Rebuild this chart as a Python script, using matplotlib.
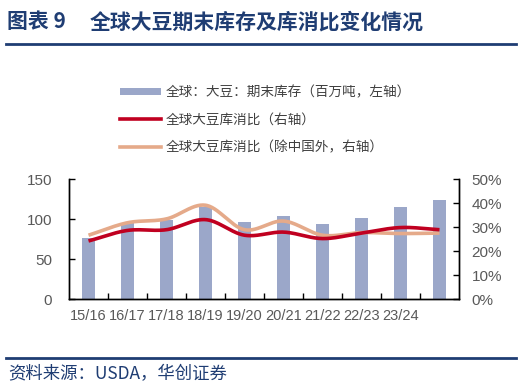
import numpy as np
import matplotlib
matplotlib.use("Agg")
import matplotlib.pyplot as plt
from matplotlib.patches import Patch
from matplotlib.lines import Line2D
from matplotlib.ticker import FuncFormatter, FixedLocator

plt.rcParams['font.family'] = ['Liberation Sans', 'Noto Sans CJK SC', 'DejaVu Sans']

# ---------------- data ----------------
categories = ["15/16", "16/17", "17/18", "18/19", "19/20", "20/21", "21/22", "22/23", "23/24", ""]
stocks = [76.6, 96.0, 99.6, 115.4, 96.7, 104.0, 94.0, 102.0, 115.4, 124.6]          # 百万吨
ratio_world = [24.3, 28.7, 29.0, 33.2, 26.7, 28.0, 25.3, 27.6, 29.9, 29.0]          # %
ratio_ex_china = [26.7, 31.9, 33.5, 39.2, 29.0, 32.6, 26.7, 27.8, 27.4, 27.6]       # %

title_tag = "图表 9"
title = "全球大豆期末库存及库消比变化情况"
legend_labels = ["全球：大豆：期末库存（百万吨，左轴）",
                 "全球大豆库消比（右轴）",
                 "全球大豆库消比（除中国外，右轴）"]
source = "资料来源：USDA，华创证券"

BAR_C = "#9BA7C9"
RED_C = "#C00020"
ORA_C = "#E5AA8A"
NAVY = "#1F3D73"
GRAY = "#595959"


def smooth(x, y, n=30):
    """Catmull-Rom rendering of a line through its points (Excel-like smoothing)."""
    x = np.asarray(x, float)
    y = np.asarray(y, float)
    px = np.concatenate([[2 * x[0] - x[1]], x, [2 * x[-1] - x[-2]]])
    py = np.concatenate([[2 * y[0] - y[1]], y, [2 * y[-1] - y[-2]]])
    xs, ys = [], []
    t = np.linspace(0, 1, n, endpoint=False)
    for i in range(1, len(px) - 2):
        p0, p1, p2, p3 = (np.array([px[j], py[j]]) for j in (i - 1, i, i + 1, i + 2))
        c1 = p1 + (p2 - p0) / 6.0
        c2 = p2 - (p3 - p1) / 6.0
        b = ((1 - t) ** 3)[:, None] * p1 + (3 * (1 - t) ** 2 * t)[:, None] * c1 \
            + (3 * (1 - t) * t ** 2)[:, None] * c2 + (t ** 3)[:, None] * p2
        xs.append(b[:, 0]); ys.append(b[:, 1])
    xs.append([x[-1]]); ys.append([y[-1]])
    return np.concatenate(xs), np.concatenate(ys)


fig = plt.figure(figsize=(5.30, 3.89), dpi=100)
ax = fig.add_axes([69 / 530, 1 - 299.3 / 389, 390 / 530, 120 / 389])
ax2 = ax.twinx()

x = np.arange(len(categories))
ax.bar(x, stocks, width=0.34, color=BAR_C, zorder=2)
ax.set_xlim(-0.5, len(categories) - 0.5)
ax.set_ylim(0, 150)
ax.set_yticks([0, 50, 100, 150])

sx, sy = smooth(x, ratio_ex_china)
ax2.plot(sx, np.array(sy) / 100, color=ORA_C, lw=2.6, solid_capstyle='butt', zorder=3)
sx, sy = smooth(x, ratio_world)
ax2.plot(sx, np.array(sy) / 100, color=RED_C, lw=2.6, solid_capstyle='butt', zorder=4)
ax2.set_ylim(0, 0.5)
ax2.set_yticks(np.arange(0, 0.51, 0.1))
ax2.yaxis.set_major_formatter(FuncFormatter(lambda v, p: f"{v*100:.0f}%"))

# x axis: labels at centres, ticks at boundaries
ax.set_xticks(x)
ax.set_xticklabels(categories)
ax.tick_params(axis='x', which='major', length=0, pad=7, labelsize=10.5, labelcolor=GRAY)
ax.xaxis.set_minor_locator(FixedLocator(np.arange(0.5, len(categories) - 1, 1.0)))
ax.tick_params(axis='x', which='minor', direction='in', length=4, width=1, color='black')

ax.tick_params(axis='y', direction='in', length=4, width=1, pad=12, labelsize=11, labelcolor=GRAY)
ax2.tick_params(axis='y', direction='in', length=4, width=1, pad=9, labelsize=11, labelcolor=GRAY)

for a in (ax, ax2):
    a.spines['top'].set_visible(False)
    for s in ('left', 'right', 'bottom'):
        a.spines[s].set_linewidth(1.0)
        a.spines[s].set_color('black')

# legend
handles = [Patch(facecolor=BAR_C, edgecolor='none'),
           Line2D([], [], color=RED_C, lw=2.6),
           Line2D([], [], color=ORA_C, lw=2.6)]
fig.legend(handles, legend_labels, loc='upper left', bbox_to_anchor=(115 / 530, 1 - 80 / 389),
           frameon=False, handlelength=2.95, handleheight=0.5, handletextpad=0.35,
           labelspacing=0.98, borderaxespad=0,
           prop={'family': ['Noto Sans CJK SC', 'DejaVu Sans'], 'size': 9.8}, labelcolor='#404040')

# title, rules, source
fig.text(7 / 530, 1 - 22 / 389, title_tag, fontsize=15, fontweight='bold', color=NAVY,
         family=['Noto Sans CJK SC', 'DejaVu Sans'], va='center', ha='left')
fig.text(90 / 530, 1 - 22 / 389, title, fontsize=15, fontweight='bold', color=NAVY,
         family=['Noto Sans CJK SC', 'DejaVu Sans'], va='center', ha='left')
fig.add_artist(Line2D([6 / 530, 516 / 530], [1 - 43.5 / 389] * 2, color=NAVY, lw=2.0))
fig.add_artist(Line2D([6 / 530, 516 / 530], [1 - 357.5 / 389] * 2, color=NAVY, lw=2.0))
fig.text(8 / 530, 1 - 374 / 389, source, fontsize=12.5, color=NAVY, style='italic',
         family=['Noto Sans CJK SC', 'DejaVu Sans'], va='center', ha='left')

fig.savefig("out.png", dpi=100)
